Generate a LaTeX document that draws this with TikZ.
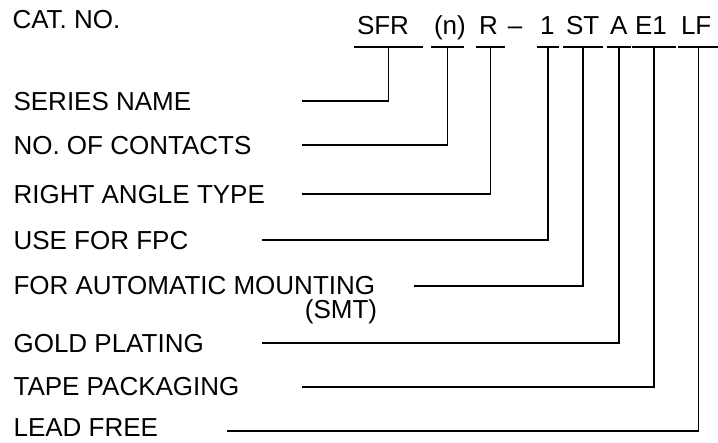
\documentclass[tikz,border=0pt]{standalone}
\usepackage{fontspec}
\setmainfont{Liberation Sans}
\begin{document}
\begin{tikzpicture}[x=1pt,y=-1pt,line width=1.1pt,
	every node/.style={font=\fontsize{26}{30}\selectfont,text height=18.6pt,text depth=0pt,inner sep=0pt},
	code/.style={anchor=south,inner xsep=2pt,inner ysep=12pt,align=left}]
	\useasboundingbox (0,0) rectangle (718,443);
	\path
	(12,19)    	node[anchor=west] 				(cat) 	{CAT. NO.}
	(388.5,47) 	node[code,text width=63pt] 		(sfr) 	{SFR}
	(447.5,47) 	node[code,text width=27pt] 		(n) 	{(n)}
	(490.5,47) 	node[code,text width=23pt] 		(r) 	{R}
	(515,47)   	node[code] 						(dash) 	{--}
	(548,47)   	node[code,text width=16pt] 		(one) 	{1}
	(583,47)   	node[code,text width=34pt] 		(st) 	{ST}
	(619,47)   	node[code,text width=18pt] 		(a) 	{A}
	(654,47)   	node[code,text width=38pt] 		(e) 	{E1}
	(698.5,47) 	node[code,text width=35pt] 		(lf) 	{LF};
	\path
	(13,101) 	node[anchor=west] (series) 	{SERIES NAME}
	(13,145) 	node[anchor=west] (contacts) {NO. OF CONTACTS}
	(13,194) 	node[anchor=west] (angle) 	{RIGHT ANGLE TYPE}
	(13,240) 	node[anchor=west] (fpc) 	{USE FOR FPC}
	(13,285) 	node[anchor=west] (mount) 	{FOR AUTOMATIC MOUNTING}
	([xshift=2pt,yshift=-5pt]mount.south east) node[anchor=north east] (smt) {(SMT)}
	(13,343) 	node[anchor=west] (gold) 	{GOLD PLATING}
	(13,386) 	node[anchor=west] (tape) 	{TAPE PACKAGING}
	(13,427) 	node[anchor=west] (lead) 	{LEAD FREE};
	% start of each leader line
	\coordinate (series-l) 	 at (302,101);
	\coordinate (contacts-l) at (302,145);
	\coordinate (angle-l) 	 at (302,194);
	\coordinate (fpc-l) 	 at (262,240);
	\coordinate (mount-l) 	 at (414,286);
	\coordinate (gold-l) 	 at (262,343);
	\coordinate (tape-l) 	 at (302,387);
	\coordinate (lead-l) 	 at (227,431);
	\foreach \c in {sfr,n,r,one,st,a,e,lf}
	\draw (\c.south west) -- (\c.south east);
	\draw (sfr.south) |- (series-l);
	\draw (n.south) |- (contacts-l);
	\draw (r.south) |- (angle-l);
	\draw (one.south) |- (fpc-l);
	\draw (st.south) |- (mount-l);
	\draw (a.south) |- (gold-l);
	\draw (e.south) |- (tape-l);
	\draw (lf.south) |- (lead-l);
\end{tikzpicture}
\end{document}
